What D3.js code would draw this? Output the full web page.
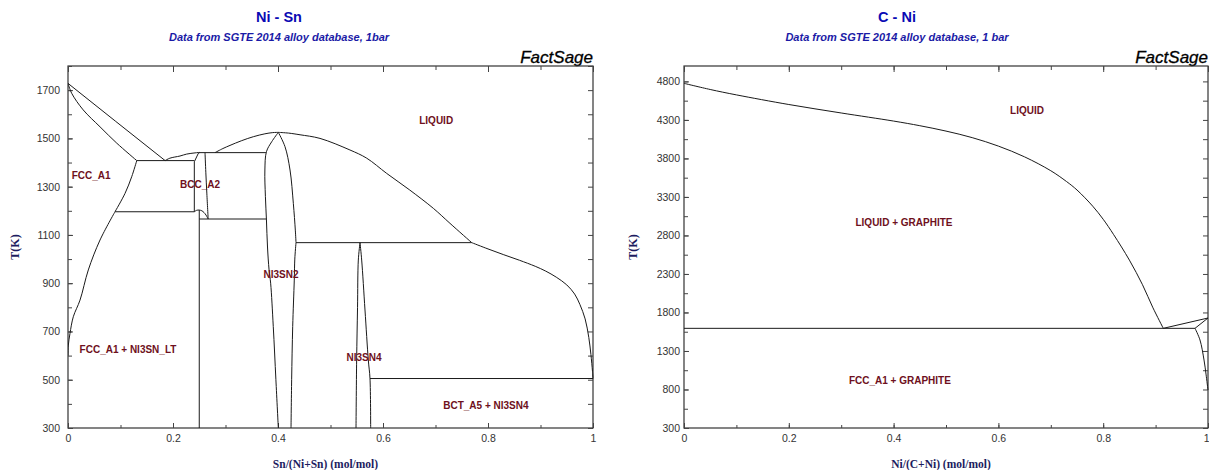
<!DOCTYPE html>
<html>
<head>
<meta charset="utf-8">
<script src="https://cdn.jsdelivr.net/npm/d3@7"></script>
<style>
  html, body { margin: 0; padding: 0; background: #ffffff; }
  svg { display: block; }
</style>
</head>
<body>
<svg id="chart" width="1209" height="470"></svg>
<script>
// ---------------- DATA: Ni - Sn ----------------
const niSnXTicks = [0, 0.2, 0.4, 0.6, 0.8, 1];
const niSnXTickLabels = ["0", "0.2", "0.4", "0.6", "0.8", "1"];
const niSnYTicks = [300, 500, 700, 900, 1100, 1300, 1500, 1700];
const niSnYDomain = [300, 1800];

const niSnLiquidusNi = [[0,1728],[0.09,1572],[0.185,1408]];
const niSnLiquidusNi3Sn = [[0.185,1408],[0.194,1418],[0.2133,1427],[0.226,1435],[0.242,1440],[0.2514,1442]];
const niSnLiquidusMid = [[0.28,1441],[0.295,1458],[0.3086,1471],[0.33,1490],[0.353,1507],[0.375,1519],[0.39,1524],[0.4006,1525]];
const niSnLiquidusSn = [[0.4006,1525],[0.42,1522],[0.442,1515],[0.48,1500],[0.537,1452],[0.569,1418],[0.607,1355],[0.651,1286],[0.696,1210],[0.7276,1148],[0.769,1068]];
const niSnLiquidusSnLow = [[0.769,1068],[0.8,1042],[0.83,1018],[0.86,995],[0.89,970],[0.91,950],[0.93,925],[0.95,893],[0.965,855],[0.975,812],[0.985,752],[0.992,675],[0.996,605],[0.999,535],[1,505]];
const niSnSolidusFcc = [[0,1728],[0.007,1687],[0.029,1618],[0.061,1548],[0.093,1480],[0.131,1408]];
const niSnSolvusFccHigh = [[0.131,1408],[0.1213,1341],[0.1086,1272],[0.0895,1196]];
const niSnSolvusFccLow = [[0.0895,1196],[0.061,1079],[0.0387,955],[0.0229,830],[0.0101,761],[0.0038,692],[0.0005,640],[0,600]];
const niSnEutectic1408 = [[0.131,1408],[0.2406,1408]];
const niSnEutectoid1196 = [[0.0895,1196],[0.2406,1196]];
const niSnBccLeft = [[0.2406,1196],[0.2406,1403],[0.248,1437],[0.2514,1442]];
const niSnBccRight = [[0.261,1441],[0.2625,1360],[0.2645,1270],[0.267,1166]];
const niSnBccArc = [[0.2406,1196],[0.245,1202],[0.25,1203],[0.255,1200],[0.259,1193],[0.263,1182],[0.267,1166]];
const niSnTop1441 = [[0.2514,1441],[0.377,1441]];
const niSnLine1166 = [[0.25,1166],[0.378,1166]];
const niSnNi3SnLT = [[0.25,1203],[0.25,300]];
const niSnNi3Sn2Left = [[0.4006,1525],[0.388,1486],[0.378,1445],[0.375,1369],[0.376,1260],[0.378,1162],[0.38,1050],[0.383,955],[0.386,900],[0.391,720],[0.396,500],[0.4006,300]];
const niSnNi3Sn2RightHigh = [[0.4006,1525],[0.4133,1466],[0.4229,1369],[0.4292,1231],[0.433,1120],[0.4343,1068]];
const niSnNi3Sn2RightLow = [[0.4343,1068],[0.432,1000],[0.431,913],[0.428,720],[0.426,500],[0.4248,300]];
const niSnPeritectic1068 = [[0.4343,1068],[0.769,1068]];
const niSnNi3Sn4Left = [[0.5562,1068],[0.553,996],[0.5515,800],[0.5498,582],[0.5486,300]];
const niSnNi3Sn4Right = [[0.5562,1068],[0.5594,996],[0.5657,789],[0.572,582],[0.5752,506],[0.5765,300]];
const niSnEutectic505 = [[0.5752,505],[1,505]];

const niSnLines = [niSnLiquidusNi, niSnLiquidusNi3Sn, niSnLiquidusMid, niSnLiquidusSn, niSnLiquidusSnLow,
  niSnSolidusFcc, niSnSolvusFccHigh, niSnSolvusFccLow, niSnEutectic1408, niSnEutectoid1196, niSnBccLeft,
  niSnBccRight, niSnBccArc, niSnTop1441, niSnLine1166, niSnNi3SnLT, niSnNi3Sn2Left, niSnNi3Sn2RightHigh,
  niSnNi3Sn2RightLow, niSnPeritectic1068, niSnNi3Sn4Left, niSnNi3Sn4Right, niSnEutectic505];
const niSnSmooth = [niSnLiquidusNi3Sn, niSnLiquidusMid, niSnLiquidusSn, niSnLiquidusSnLow, niSnSolidusFcc,
  niSnSolvusFccHigh, niSnSolvusFccLow, niSnBccRight, niSnBccArc, niSnNi3Sn2Left, niSnNi3Sn2RightHigh,
  niSnNi3Sn2RightLow, niSnNi3Sn4Left, niSnNi3Sn4Right];

const niSnLabelText = ["LIQUID", "FCC_A1", "BCC_A2", "NI3SN2", "FCC_A1 + NI3SN_LT", "NI3SN4", "BCT_A5 + NI3SN4"];
const niSnLabelX = [0.7013, 0.044, 0.2514, 0.4057, 0.1143, 0.5638, 0.796];
const niSnLabelT = [1576, 1348, 1311, 938, 627, 591, 395];

// ---------------- DATA: C - Ni ----------------
const cNiXTicks = [0, 0.2, 0.4, 0.6, 0.8, 1];
const cNiXTickLabels = ["0", "0.2", "0.4", "0.6", "0.8", "1"];
const cNiYTicks = [300, 800, 1300, 1800, 2300, 2800, 3300, 3800, 4300, 4800];
const cNiYDomain = [300, 5000];

const cNiLiquidusGraphite = [[0,4775],[0.05,4695],[0.1,4625],[0.2,4500],[0.3,4390],[0.4,4285],[0.45,4225],[0.5,4155],[0.55,4070],[0.6,3960],[0.65,3820],[0.7,3640],[0.73,3500],[0.75,3390],[0.78,3180],[0.8,3010],[0.82,2810],[0.85,2480],[0.875,2160],[0.895,1860],[0.9147,1594]];
const cNiEutectic = [[0,1594],[0.9752,1594]];
const cNiLiquidusNi = [[0.9147,1594],[1,1728]];
const cNiSolidusNi = [[0.9752,1594],[1,1728]];
const cNiSolvusNi = [[0.9752,1594],[0.9847,1443],[0.9924,1183],[0.9962,1000],[1,793]];
const cNiLines = [cNiLiquidusGraphite, cNiEutectic, cNiLiquidusNi, cNiSolidusNi, cNiSolvusNi];
const cNiSmooth = [cNiLiquidusGraphite, cNiSolvusNi];

const cNiLabelText = ["LIQUID", "LIQUID + GRAPHITE", "FCC_A1 + GRAPHITE"];
const cNiLabelX = [0.6546, 0.4198, 0.412];
const cNiLabelT = [4420, 2966, 914];

// ---------------- DRAWING ----------------
const svg = d3.select("#chart");
const TICK_FONT = "'Liberation Sans', Arial, sans-serif";
const SERIF = "'Liberation Serif', 'Times New Roman', serif";

function drawPanel(p) {
  const g = svg.append("g");
  const x = d3.scaleLinear().domain([0, 1]).range([p.x0, p.x1]);
  const y = d3.scaleLinear().domain(p.yDomain).range([p.yBottom, p.yTop]);

  // titles
  g.append("text").attr("x", p.titleX).attr("y", 22).attr("text-anchor", "middle")
    .attr("font-family", TICK_FONT).attr("font-weight", "bold").attr("font-size", 14.5)
    .attr("fill", "#0a0ab4").text(p.title);
  g.append("text").attr("x", p.titleX).attr("y", 41).attr("text-anchor", "middle")
    .attr("font-family", TICK_FONT).attr("font-weight", "bold").attr("font-style", "italic")
    .attr("font-size", 11).attr("fill", "#1a1aa6").text(p.subtitle);
  g.append("text").attr("x", p.x1).attr("y", 63).attr("text-anchor", "end")
    .attr("font-family", TICK_FONT).attr("font-style", "italic").attr("font-size", 17)
    .attr("stroke", "#000").attr("stroke-width", 0.3)
    .attr("fill", "#000").text("FactSage");

  // frame
  g.append("rect").attr("x", p.x0).attr("y", p.yTop).attr("width", p.x1 - p.x0)
    .attr("height", p.yBottom - p.yTop).attr("fill", "none").attr("stroke", "#333").attr("stroke-width", 1.2);

  const styleAxis = sel => {
    sel.select(".domain").remove();
    sel.selectAll(".tick line").attr("stroke", "#444");
    sel.selectAll("text").attr("font-family", TICK_FONT).attr("font-size", 10.5).attr("fill", "#333");
  };

  // x axes
  const xMinor = d3.range(0, 1.0001, 0.1);
  g.append("g").attr("transform", `translate(0,${p.yBottom})`)
    .call(d3.axisBottom(x).tickValues(xMinor).tickSizeInner(-3).tickSizeOuter(0).tickFormat(""))
    .call(styleAxis);
  const xAx = g.append("g").attr("transform", `translate(0,${p.yBottom})`)
    .call(d3.axisBottom(x).tickValues(p.xTicks).tickSizeInner(-5).tickSizeOuter(0).tickPadding(7)
      .tickFormat((d, i) => p.xTickLabels[i]))
    .call(styleAxis);
  if (p.lastTickEnd) {
    xAx.selectAll(".tick text").filter(d => d === 1).attr("text-anchor", "end").attr("dx", 1);
  }
  g.append("g").attr("transform", `translate(0,${p.yTop})`)
    .call(d3.axisTop(x).tickValues(xMinor).tickSizeInner(-4).tickSizeOuter(0).tickFormat(""))
    .call(styleAxis);
  g.append("g").attr("transform", `translate(0,${p.yTop})`)
    .call(d3.axisTop(x).tickValues(p.xTicks).tickSizeInner(-6).tickSizeOuter(0).tickFormat(""))
    .call(styleAxis);

  // y axes
  const yMinor = d3.range(p.yDomain[0], p.yDomain[1] + 1, p.yMinorStep);
  g.append("g").attr("transform", `translate(${p.x0},0)`)
    .call(d3.axisLeft(y).tickValues(yMinor).tickSizeInner(-4).tickSizeOuter(0).tickFormat(""))
    .call(styleAxis);
  g.append("g").attr("transform", `translate(${p.x0},0)`)
    .call(d3.axisLeft(y).tickValues(p.yTicks).tickSizeInner(-5).tickSizeOuter(0).tickPadding(p.yPad)
      .tickFormat(d3.format("d")))
    .call(styleAxis);
  g.append("g").attr("transform", `translate(${p.x1},0)`)
    .call(d3.axisRight(y).tickValues(yMinor).tickSizeInner(-5).tickSizeOuter(0).tickFormat(""))
    .call(styleAxis);

  // axis titles
  g.append("text").attr("x", (p.x0 + p.x1) / 2 - 5).attr("y", 468).attr("text-anchor", "middle")
    .attr("font-family", SERIF).attr("font-weight", "bold").attr("font-size", 11.5)
    .attr("fill", "#1c1c60").text(p.xTitle);
  g.append("text").attr("transform", `translate(${p.yTitleX},${(p.yTop + p.yBottom) / 2}) rotate(-90)`)
    .attr("text-anchor", "middle").attr("dy", "0.35em")
    .attr("font-family", SERIF).attr("font-weight", "bold").attr("font-size", 12)
    .attr("fill", "#1c1c60").text("T(K)");

  // phase boundaries
  const straight = d3.line().x(d => x(d[0])).y(d => y(d[1])).curve(d3.curveLinear);
  const smooth = d3.line().x(d => x(d[0])).y(d => y(d[1])).curve(d3.curveCatmullRom.alpha(0.5));
  const clipId = "clip" + p.id;
  g.append("clipPath").attr("id", clipId).append("rect")
    .attr("x", p.x0).attr("y", p.yTop).attr("width", p.x1 - p.x0 + 1).attr("height", p.yBottom - p.yTop);
  g.append("g").attr("clip-path", `url(#${clipId})`).selectAll("path").data(p.lines).join("path")
    .attr("d", d => (p.smooth.includes(d) ? smooth : straight)(d))
    .attr("fill", "none").attr("stroke", "#1a1a1a").attr("stroke-width", 1)
    .attr("stroke-linejoin", "round");

  // region labels
  g.selectAll("text.lbl").data(p.labelText).join("text").attr("class", "lbl")
    .attr("x", (d, i) => x(p.labelX[i])).attr("y", (d, i) => y(p.labelT[i]))
    .attr("dy", "0.35em").attr("text-anchor", "middle")
    .attr("font-family", TICK_FONT).attr("font-weight", "bold").attr("font-size", 10)
    .attr("fill", "#6e1020").text(d => d);
}

drawPanel({
  id: "a", x0: 68, x1: 593, yTop: 66, yBottom: 428, yDomain: niSnYDomain,
  yTicks: niSnYTicks, yMinorStep: 100, yPad: 8, xTicks: niSnXTicks, xTickLabels: niSnXTickLabels,
  title: "Ni - Sn", subtitle: "Data from SGTE 2014 alloy database, 1bar", titleX: 279,
  xTitle: "Sn/(Ni+Sn) (mol/mol)", yTitleX: 15, lastTickEnd: false,
  lines: niSnLines, smooth: niSnSmooth, labelText: niSnLabelText, labelX: niSnLabelX, labelT: niSnLabelT
});
drawPanel({
  id: "b", x0: 684, x1: 1208, yTop: 66, yBottom: 428, yDomain: cNiYDomain,
  yTicks: cNiYTicks, yMinorStep: 250, yPad: 4, xTicks: cNiXTicks, xTickLabels: cNiXTickLabels,
  title: "C - Ni", subtitle: "Data from SGTE 2014 alloy database, 1 bar", titleX: 897,
  xTitle: "Ni/(C+Ni) (mol/mol)", yTitleX: 633, lastTickEnd: true,
  lines: cNiLines, smooth: cNiSmooth, labelText: cNiLabelText, labelX: cNiLabelX, labelT: cNiLabelT
});
</script>
</body>
</html>
